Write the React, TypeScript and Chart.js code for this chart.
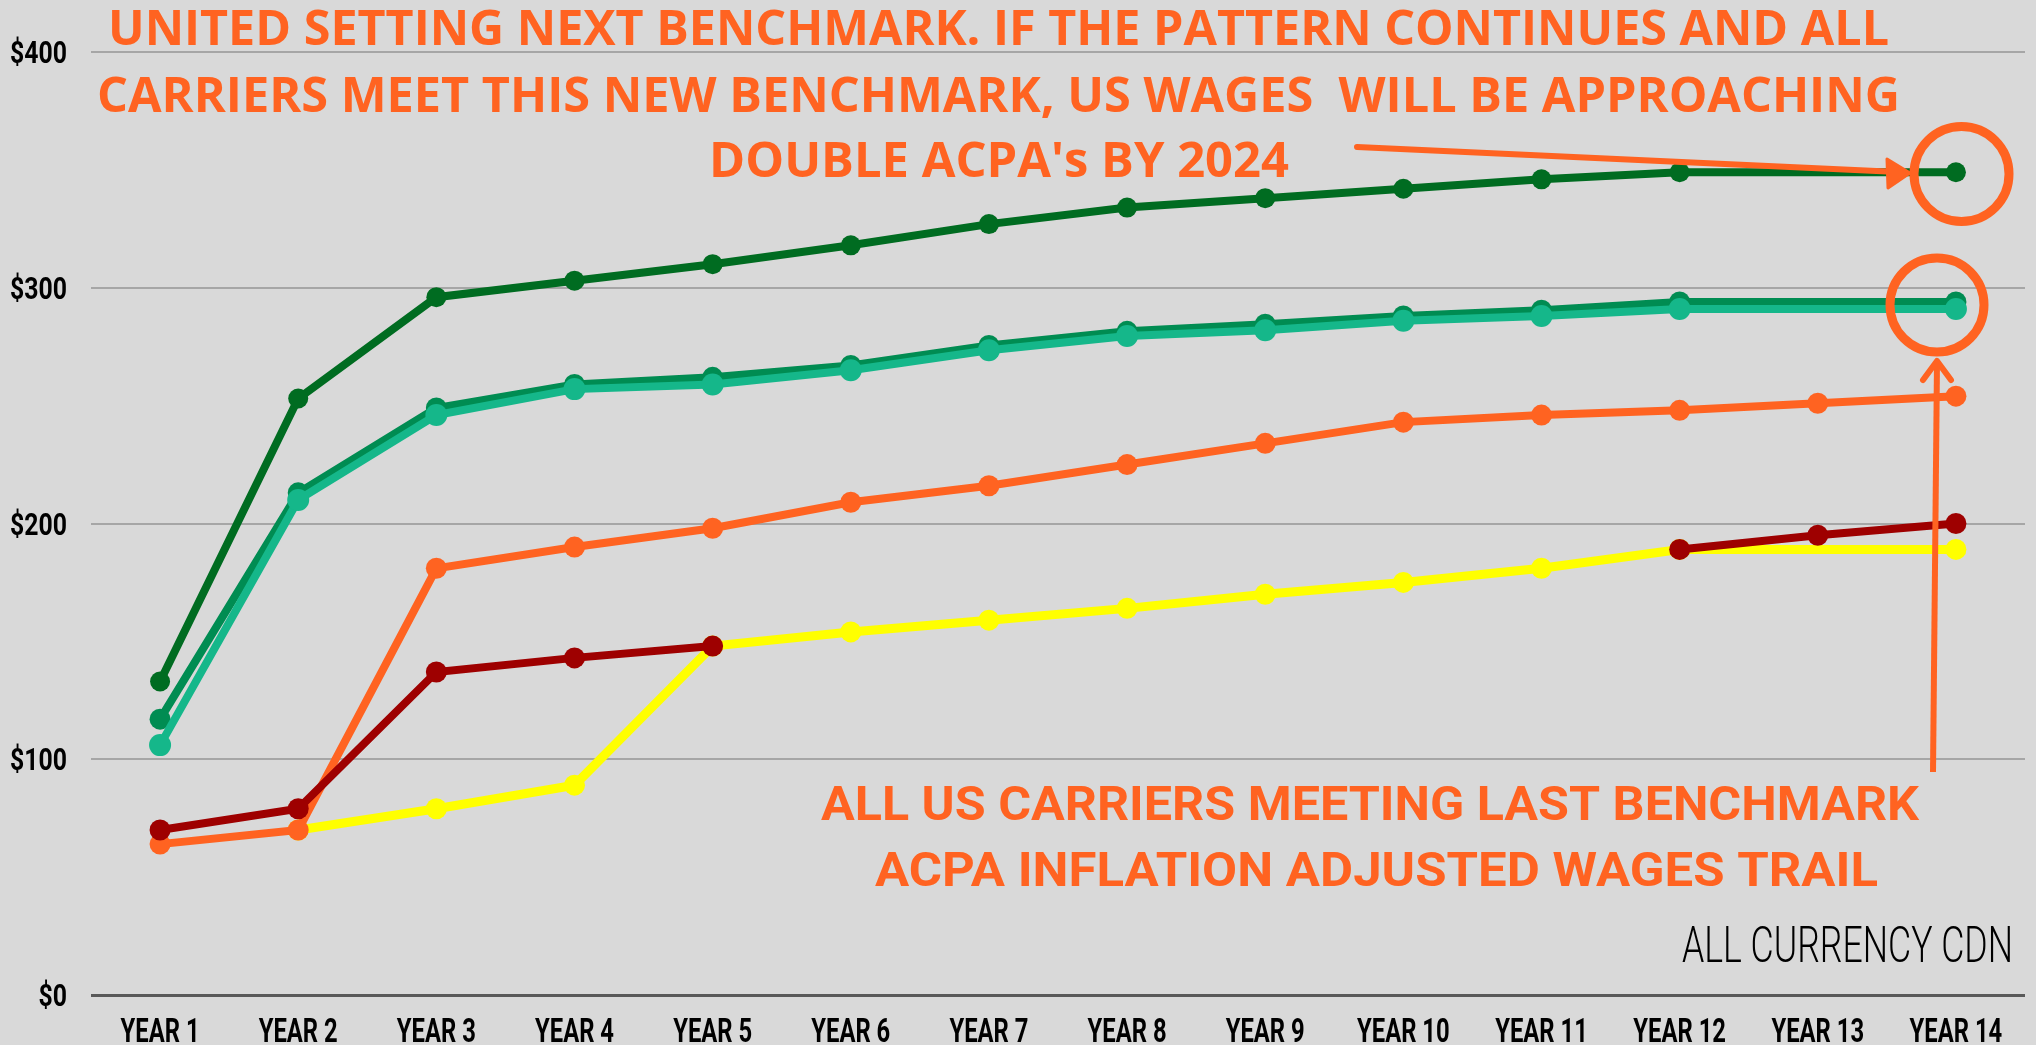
import React, { useEffect, useRef } from "react";
import { Chart, registerables } from "chart.js";

Chart.register(...registerables);

// ---------- data ----------
const categories = [
  "YEAR 1", "YEAR 2", "YEAR 3", "YEAR 4", "YEAR 5", "YEAR 6", "YEAR 7",
  "YEAR 8", "YEAR 9", "YEAR 10", "YEAR 11", "YEAR 12", "YEAR 13", "YEAR 14",
];
const yTickValues = [0, 100, 200, 300, 400];

const unitedNext = [133, 253, 296, 303, 310, 318, 327, 334, 338, 342, 346, 349, null, 349];
const usCarrierA = [117, 213, 249, 259, 262, 267, 275.5, 281.5, 284.5, 288, 290.5, 294, null, 294];
const usCarrierB = [106, 210, 246, 257, 259, 265, 273.5, 279.5, 282, 286, 288, 291, null, 291];
const acpaInflationAdjusted = [64, 70, 181, 190, 198, 209, 216, 225, 234, 243, 246, 248, 251, 254];
const acpaProposal = [70, 79, 137, 143, 148, null, null, null, null, null, null, 189, 195, 200];
const acpaCurrent = [null, 70, 79, 89, 148, 154, 159, 164, 170, 175, 181, 189, null, 189];

const titleLines = [
  "UNITED SETTING NEXT BENCHMARK. IF THE PATTERN CONTINUES AND ALL",
  "CARRIERS MEET THIS NEW BENCHMARK, US WAGES  WILL BE APPROACHING",
  "DOUBLE ACPA's BY 2024",
];
const footLines = [
  "ALL US CARRIERS MEETING LAST BENCHMARK",
  "ACPA INFLATION ADJUSTED WAGES TRAIL",
];
const currencyNote = "ALL CURRENCY CDN";

// ---------- styles ----------
const W = 2036;
const H = 1045;
const BG = "#D9D9D9";
const ORANGE = "#FF6321";
const TICK_FONT = "bold 33px Roboto, 'Liberation Sans', sans-serif";

function fitText(
  ctx: CanvasRenderingContext2D,
  text: string,
  font: string,
  x0: number,
  x1: number,
  baseline: number,
  color: string
) {
  ctx.save();
  ctx.font = font;
  ctx.fillStyle = color;
  ctx.textAlign = "left";
  ctx.textBaseline = "alphabetic";
  const w = ctx.measureText(text).width;
  ctx.translate(x0, baseline);
  ctx.scale((x1 - x0) / w, 1);
  ctx.fillText(text, 0, 0);
  ctx.restore();
}

const backgroundPlugin = {
  id: "bg",
  beforeDraw(chart: any) {
    const ctx = chart.ctx as CanvasRenderingContext2D;
    ctx.save();
    ctx.fillStyle = BG;
    ctx.fillRect(0, 0, chart.width, chart.height);
    ctx.restore();
  },
};

// condensed tick labels, positioned by the chart's own scales
const condensedTicksPlugin = {
  id: "condensedTicks",
  afterDraw(chart: any) {
    const ctx = chart.ctx as CanvasRenderingContext2D;
    const xs = chart.scales.x;
    const ys = chart.scales.y;
    ctx.save();
    ctx.font = TICK_FONT;
    ctx.fillStyle = "#000000";
    ctx.textBaseline = "alphabetic";
    const sx = 79 / ctx.measureText("YEAR 6").width;
    categories.forEach((label, i) => {
      const x = xs.getPixelForValue(i);
      ctx.save();
      ctx.translate(x, 1042);
      ctx.scale(sx, 1);
      ctx.textAlign = "center";
      ctx.fillText(label, 0, 0);
      ctx.restore();
    });
    ctx.font = "bold 31px Roboto, 'Liberation Sans', sans-serif";
    const sy = 57 / ctx.measureText("$400").width;
    yTickValues.forEach((v) => {
      const y = ys.getPixelForValue(v);
      ctx.save();
      ctx.translate(67, y + 11);
      ctx.scale(sy, 1);
      ctx.textAlign = "right";
      ctx.fillText("$" + v, 0, 0);
      ctx.restore();
    });
    ctx.restore();
  },
};

const annotationPlugin = {
  id: "annotations",
  afterDraw(chart: any) {
    const ctx = chart.ctx as CanvasRenderingContext2D;
    ctx.save();
    // title
    const titleFont = "bold 49px 'Open Sans', 'Noto Sans', sans-serif";
    fitText(ctx, titleLines[0], titleFont, 108, 1889, 45, ORANGE);
    fitText(ctx, titleLines[1], titleFont, 97, 1900, 112, ORANGE);
    fitText(ctx, titleLines[2], titleFont, 709, 1289, 177, ORANGE);

    // foot text
    const footFont = "bold 49px Roboto, 'Liberation Sans', sans-serif";
    fitText(ctx, footLines[0], footFont, 821, 1919, 820, ORANGE);
    fitText(ctx, footLines[1], footFont, 875, 1878, 886, ORANGE);

    // currency note
    fitText(ctx, currencyNote, "300 50px Roboto, 'Liberation Sans', sans-serif", 1682, 2013, 962, "#000000");

    ctx.strokeStyle = ORANGE;
    ctx.fillStyle = ORANGE;
    ctx.lineCap = "round";
    ctx.lineJoin = "round";

    // circles
    ctx.lineWidth = 9;
    ctx.beginPath();
    ctx.arc(1961.5, 174, 47.5, 0, Math.PI * 2);
    ctx.stroke();
    ctx.beginPath();
    ctx.arc(1937, 305, 47, 0, Math.PI * 2);
    ctx.stroke();

    // arrow 1 (to top circle)
    ctx.lineWidth = 6;
    ctx.beginPath();
    ctx.moveTo(1357, 147);
    ctx.lineTo(1898, 172);
    ctx.stroke();
    ctx.beginPath();
    ctx.moveTo(1910, 173);
    ctx.lineTo(1887, 159);
    ctx.lineTo(1888, 188);
    ctx.closePath();
    ctx.fill();
    ctx.lineWidth = 3;
    ctx.stroke();

    // arrow 2 (to second circle)
    ctx.lineWidth = 6;
    ctx.lineCap = "butt";
    ctx.beginPath();
    ctx.moveTo(1933, 772);
    ctx.lineTo(1937, 362);
    ctx.stroke();
    ctx.lineCap = "round";
    ctx.beginPath();
    ctx.moveTo(1923, 380);
    ctx.lineTo(1937, 361);
    ctx.lineTo(1951, 380);
    ctx.stroke();
    ctx.restore();
  },
};

function series(
  label: string,
  data: (number | null)[],
  color: string,
  width: number,
  radius: number,
  spanGaps: boolean
) {
  return {
    label,
    data,
    borderColor: color,
    backgroundColor: color,
    borderWidth: width,
    pointRadius: radius,
    pointBackgroundColor: color,
    pointBorderWidth: 0,
    pointHoverRadius: radius,
    tension: 0,
    spanGaps,
  };
}

export default function App() {
  const ref = useRef<HTMLCanvasElement>(null);

  useEffect(() => {
    document.body.style.margin = "0";
    document.body.style.background = BG;
    const chart = new Chart(ref.current as HTMLCanvasElement, {
      type: "line",
      data: {
        labels: categories,
        datasets: [
          series("United – next benchmark", unitedNext, "#006C21", 8, 10, true),
          series("US carrier B", usCarrierB, "#15B78A", 8, 11, true),
          series("US carrier A", usCarrierA, "#008C52", 8, 10.5, true),
          series("ACPA proposal", acpaProposal, "#9E0000", 8, 10.5, false),
          series("ACPA inflation adjusted", acpaInflationAdjusted, "#FF6321", 8, 10.5, true),
          series("ACPA", acpaCurrent, "#FFFF00", 9, 10.5, true),
        ] as any,
      },
      plugins: [backgroundPlugin, condensedTicksPlugin, annotationPlugin],
      options: {
        responsive: false,
        animation: false,
        events: [],
        layout: { padding: { top: 52, right: 0, bottom: 0, left: 0 } },
        plugins: {
          legend: { display: false },
          tooltip: { enabled: false },
          title: { display: false },
        },
        scales: {
          x: {
            type: "category",
            offset: true,
            grid: { display: false, drawTicks: false },
            border: { display: false },
            ticks: { display: false, autoSkip: false },
            afterFit(scale: any) {
              scale.height = 50;
            },
          },
          y: {
            type: "linear",
            min: 0,
            max: 400,
            afterBuildTicks(scale: any) {
              scale.ticks = yTickValues.map((v) => ({ value: v }));
            },
            grid: {
              drawTicks: false,
              color: (c: any) => (c.tick && c.tick.value === 0 ? "#595959" : "#A6A6A6"),
              lineWidth: (c: any) => (c.tick && c.tick.value === 0 ? 3 : 2),
            },
            border: { display: false },
            ticks: { display: false },
            afterFit(scale: any) {
              scale.width = 91;
            },
          },
        },
      } as any,
    });
    return () => chart.destroy();
  }, []);

  return (
    <div style={{ width: W, height: H, background: BG }}>
      <canvas ref={ref} width={W} height={H} style={{ display: "block" }} />
    </div>
  );
}
